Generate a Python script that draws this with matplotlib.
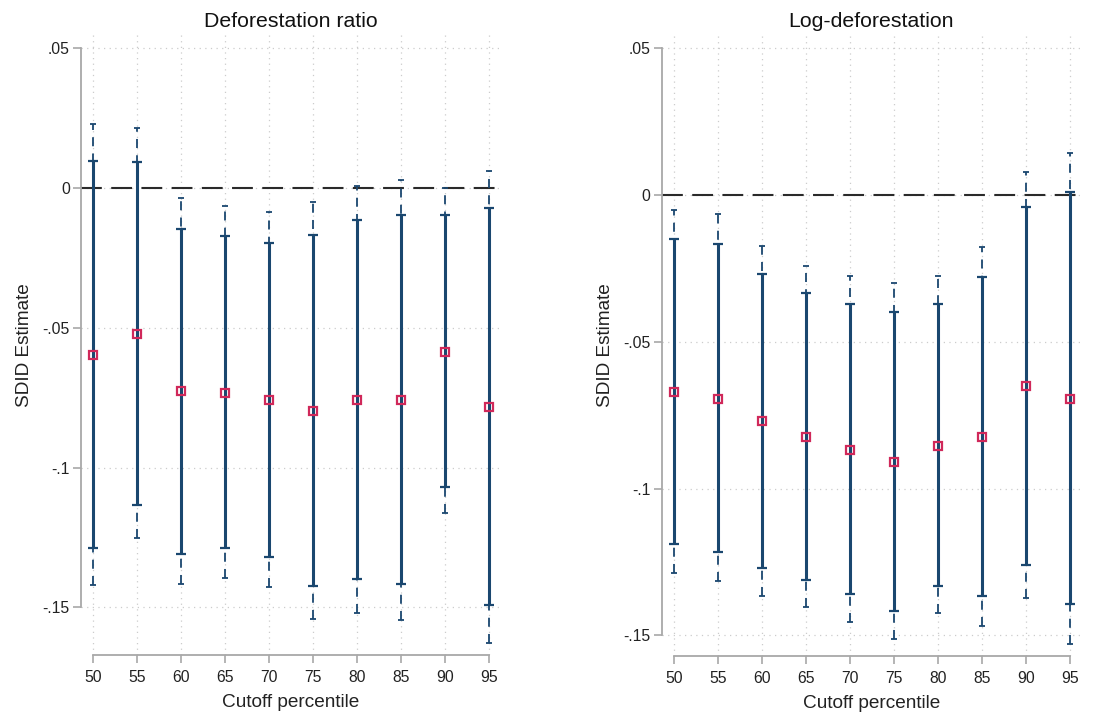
import matplotlib
matplotlib.use("Agg")
import matplotlib.pyplot as plt
import numpy as np

plt.rcParams['font.family'] = ['Liberation Sans', 'DejaVu Sans']

cutoffs = [50, 55, 60, 65, 70, 75, 80, 85, 90, 95]

# Panel 1: Deforestation ratio
ratio_est = [-0.0596, -0.0520, -0.0727, -0.0731, -0.0759, -0.0796, -0.0757, -0.0759, -0.0585, -0.0783]
ratio_lo95 = [-0.1288, -0.1134, -0.1308, -0.1288, -0.1321, -0.1422, -0.1397, -0.1417, -0.1069, -0.1491]
ratio_hi95 = [0.0097, 0.0094, -0.0146, -0.0171, -0.0196, -0.0169, -0.0114, -0.0097, -0.0097, -0.0072]
ratio_lo_w = [-0.1420, -0.1253, -0.1415, -0.1394, -0.1428, -0.1541, -0.1521, -0.1545, -0.1163, -0.1628]
ratio_hi_w = [0.0229, 0.0215, -0.0035, -0.0064, -0.0087, -0.0049, 0.0008, 0.0030, -0.0001, 0.0063]

# Panel 2: Log-deforestation
log_est = [-0.0671, -0.0694, -0.0771, -0.0825, -0.0868, -0.0909, -0.0854, -0.0825, -0.0651, -0.0694]
log_lo95 = [-0.1187, -0.1215, -0.1269, -0.1310, -0.1358, -0.1416, -0.1331, -0.1367, -0.1259, -0.1393]
log_hi95 = [-0.0150, -0.0166, -0.0270, -0.0335, -0.0373, -0.0399, -0.0370, -0.0279, -0.0040, 0.0008]
log_lo_w = [-0.1287, -0.1316, -0.1364, -0.1402, -0.1453, -0.1513, -0.1423, -0.1467, -0.1374, -0.1528]
log_hi_w = [-0.0051, -0.0066, -0.0174, -0.0242, -0.0278, -0.0300, -0.0278, -0.0177, 0.0076, 0.0143]

yticks = [0.05, 0, -0.05, -0.1, -0.15]
ytick_labels = ['.05', '0', '-.05', '-.1', '-.15']

titles = ['Deforestation ratio', 'Log-deforestation']
navy = '#1a476f'
crimson = '#d0285a'
spine_gray = '#a8a8a8'

fig = plt.figure(figsize=(11.2, 7.19), dpi=100)
ax1 = fig.add_axes([0.0723, 0.089, 0.374, 0.862])
ax2 = fig.add_axes([0.5908, 0.0876, 0.3744, 0.8637])

panels = [
    (ax1, ratio_est, ratio_lo95, ratio_hi95, ratio_lo_w, ratio_hi_w, (-0.167, 0.0547)),
    (ax2, log_est, log_lo95, log_hi95, log_lo_w, log_hi_w, (-0.157, 0.0544)),
]

for i, (ax, est, lo, hi, low, hiw, ylim) in enumerate(panels):
    x = np.array(cutoffs)
    est = np.array(est)
    ax.set_xlim(48.6, 96.2)
    ax.set_ylim(*ylim)
    # grid
    for xv in cutoffs:
        ax.axvline(xv, color='#cccccc', lw=0.9, ls=(0, (1, 3.5)), zorder=0)
    for yv in yticks:
        ax.axhline(yv, color='#cccccc', lw=0.9, ls=(0, (1, 3.5)), zorder=0)
    ax.axhline(0, color='#2a2a2a', lw=1.5, ls=(0, (10, 4.5)), zorder=1)
    # wide CI dashed
    eb = ax.errorbar(x, est, yerr=[est - np.array(low), np.array(hiw) - est], fmt='none',
                     ecolor=navy, elinewidth=1.3, capsize=2.3, capthick=1.3, zorder=2)
    for lc in eb[2]:
        lc.set_linestyle((0, (5, 4)))
    # 95% CI solid
    ax.errorbar(x, est, yerr=[est - np.array(lo), np.array(hi) - est], fmt='none',
                ecolor=navy, elinewidth=2.2, capsize=3.3, capthick=1.6, zorder=3)
    ax.plot(x, est, ls='none', marker='s', markersize=5.5, markerfacecolor='none',
            markeredgecolor=crimson, markeredgewidth=1.6, zorder=4)

    ax.set_xticks(cutoffs)
    ax.set_xticklabels([str(c) for c in cutoffs])
    ax.set_yticks(yticks)
    ax.set_yticklabels(ytick_labels)
    ax.tick_params(axis='both', labelsize=11.3, color=spine_gray, length=5.5, width=1.2,
                   labelcolor='#222222')
    ax.tick_params(axis='x', pad=5)
    ax.tick_params(axis='y', pad=2.5)
    for s in ['top', 'right']:
        ax.spines[s].set_visible(False)
    ax.spines['left'].set_color(spine_gray)
    ax.spines['bottom'].set_color(spine_gray)
    ax.spines['left'].set_linewidth(1.3)
    ax.spines['bottom'].set_linewidth(1.3)
    ax.spines['left'].set_bounds(-0.15, 0.05)
    ax.spines['bottom'].set_bounds(50, 95)
    ax.set_title(titles[i], fontsize=15.3, color='#111111', pad=6)
    ax.set_xlabel('Cutoff percentile', fontsize=13.7, color='#222222', labelpad=7)
    ax.set_ylabel('SDID Estimate', fontsize=13.7, color='#222222', labelpad=7)
    ax.patch.set_alpha(0)

fig.savefig('out.png', dpi=100, facecolor='white')
